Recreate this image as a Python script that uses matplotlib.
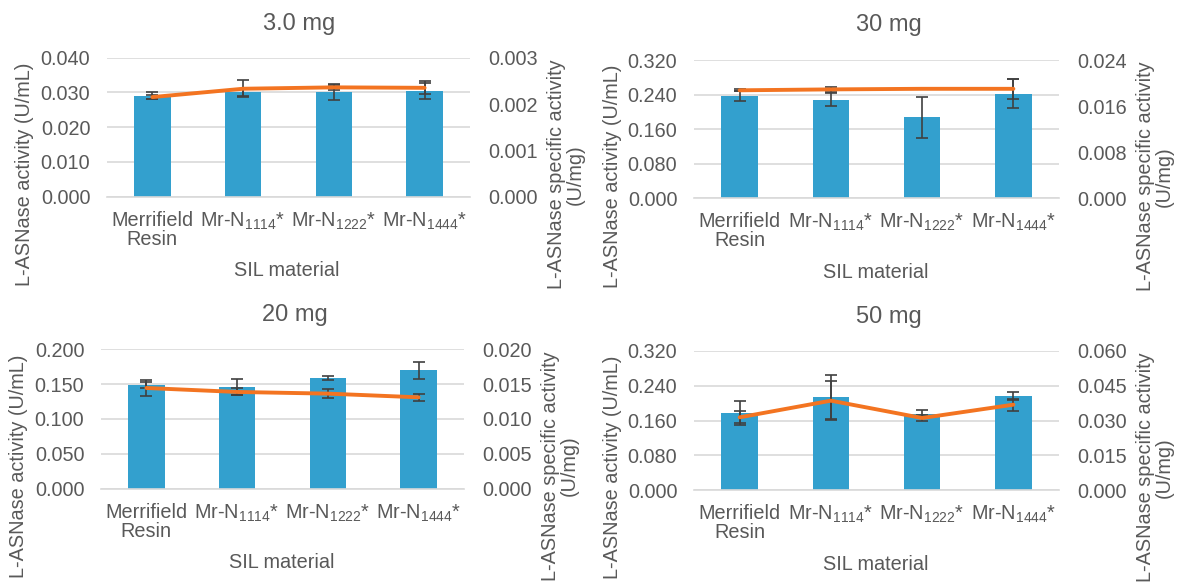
import matplotlib
matplotlib.use('Agg')
import matplotlib.pyplot as plt
import numpy as np

plt.rcParams['font.family'] = ['Liberation Sans', 'DejaVu Sans']
plt.rcParams['mathtext.fontset'] = 'custom'
plt.rcParams['mathtext.rm'] = 'Liberation Sans'
plt.rcParams['mathtext.it'] = 'Liberation Sans'

# categories on the x axis
materials = ['Merrifield\nResin', r'Mr-N$_{1114}$*', r'Mr-N$_{1222}$*', r'Mr-N$_{1444}$*']

# 3.0 mg
activity_3 = [0.0291, 0.0301, 0.0301, 0.0304]
activity_3_err = [0.0010, 0.0010, 0.0022, 0.0022]
specific_3 = [0.00215, 0.00233, 0.00236, 0.00235]
specific_3_err = [0.00005, 0.00018, 0.00006, 0.00014]

# 30 mg
activity_30 = [0.2367, 0.2275, 0.1874, 0.2420]
activity_30_err = [0.011, 0.015, 0.048, 0.034]
specific_30 = [0.01874, 0.01890, 0.01900, 0.01900]
specific_30_err = [0.0002, 0.0005, 0.0001, 0.0017]

# 20 mg
activity_20 = [0.1488, 0.1455, 0.1593, 0.1699]
activity_20_err = [0.005, 0.0115, 0.003, 0.012]
specific_20 = [0.01445, 0.01388, 0.01364, 0.01311]
specific_20_err = [0.0011, 0.0005, 0.0006, 0.0005]

# 50 mg
activity_50 = [0.178, 0.214, 0.1757, 0.2164]
activity_50_err = [0.0276, 0.051, 0.0084, 0.010]
specific_50 = [0.03137, 0.03856, 0.03108, 0.03683]
specific_50_err = [0.0026, 0.0083, 0.0014, 0.0026]

panels = [
    ('3.0 mg', activity_3, activity_3_err, specific_3, specific_3_err, 0.040, 0.010, 0.003, 0.001),
    ('30 mg', activity_30, activity_30_err, specific_30, specific_30_err, 0.320, 0.080, 0.024, 0.008),
    ('20 mg', activity_20, activity_20_err, specific_20, specific_20_err, 0.200, 0.050, 0.020, 0.005),
    ('50 mg', activity_50, activity_50_err, specific_50, specific_50_err, 0.320, 0.080, 0.060, 0.015),
]

# pixel boxes of plot areas: left, right, top, bottom
boxes = [(107, 470, 57.7, 196.7), (694, 1059, 60, 198.3), (101, 464, 349.3, 488.7), (694, 1059, 351, 490)]
title_pos = [(299, 24), (889, 25), (295, 315), (889, 317)]
xlabel_pos = [(287, 271), (876, 272), (282, 563), (876, 564)]
ylabel_x = [(25, 566), (613, 1155), (19, 560), (613, 1155)]

W, H = 1178, 583
text_color = '#595959'
bar_color = '#33A0CE'
line_color = '#F37421'
err_color = '#404040'
fs = 14.3

fig = plt.figure(figsize=(W / 100, H / 100), dpi=100)

x = np.arange(len(materials))
for i, (title, act, act_err, spec, spec_err, lmax, lstep, rmax, rstep) in enumerate(panels):
    l, r, t, b = boxes[i]
    ax = fig.add_axes([l / W, 1 - b / H, (r - l) / W, (b - t) / H])
    ax.bar(x, act, width=0.4, color=bar_color, zorder=2)
    ax.errorbar(x, act, yerr=act_err, fmt='none', ecolor=err_color, elinewidth=1.2, capsize=4, capthick=1.2, zorder=3)
    ax.set_ylim(0, lmax)
    ax.set_yticks(np.arange(0, lmax + lstep / 2, lstep))
    ax.yaxis.set_major_formatter(plt.FormatStrFormatter('%.3f'))
    ax.set_xlim(-0.5, 3.5)
    ax.set_xticks(x)
    ax.set_xticklabels(materials, linespacing=1.0)
    ax.grid(axis='y', color='#D9D9D9', linewidth=1.2, zorder=0)
    ax.set_axisbelow(True)
    for s in ['top', 'left', 'right']:
        ax.spines[s].set_visible(False)
    ax.spines['bottom'].set_color('#D9D9D9')
    ax.spines['bottom'].set_linewidth(1.2)
    ax.tick_params(length=0, labelsize=fs, colors=text_color)
    ax.tick_params(axis='y', pad=12)
    ax.tick_params(axis='x', pad=10)

    ax2 = ax.twinx()
    ax2.plot(x, spec, color=line_color, linewidth=2.8, solid_capstyle='round', zorder=4)
    ax2.errorbar(x, spec, yerr=spec_err, fmt='none', ecolor=err_color, elinewidth=1.2, capsize=4, capthick=1.2, zorder=3)
    ax2.set_ylim(0, rmax)
    ax2.set_yticks(np.arange(0, rmax + rstep / 2, rstep))
    ax2.yaxis.set_major_formatter(plt.FormatStrFormatter('%.3f'))
    for s in ['top', 'left', 'right', 'bottom']:
        ax2.spines[s].set_visible(False)
    ax2.tick_params(length=0, labelsize=fs, colors=text_color, pad=13)

    tx, ty = title_pos[i]
    fig.text(tx / W, 1 - ty / H, title, ha='center', va='center', fontsize=17, color=text_color)
    lx, ly = xlabel_pos[i]
    fig.text(lx / W, 1 - ly / H, 'SIL material', ha='center', va='center', fontsize=fs, color=text_color)
    yl, yr = ylabel_x[i]
    cy = (t + b) / 2 + 47
    fig.text(yl / W, 1 - cy / H, 'L-ASNase activity (U/mL)', rotation=90, ha='center', va='center',
             fontsize=fs, color=text_color)
    fig.text(yr / W, 1 - cy / H, 'L-ASNase specific activity\n(U/mg)', rotation=90, ha='center', va='center',
             multialignment='center', fontsize=fs, color=text_color, linespacing=1.0)

fig.savefig('out.png', dpi=100)
